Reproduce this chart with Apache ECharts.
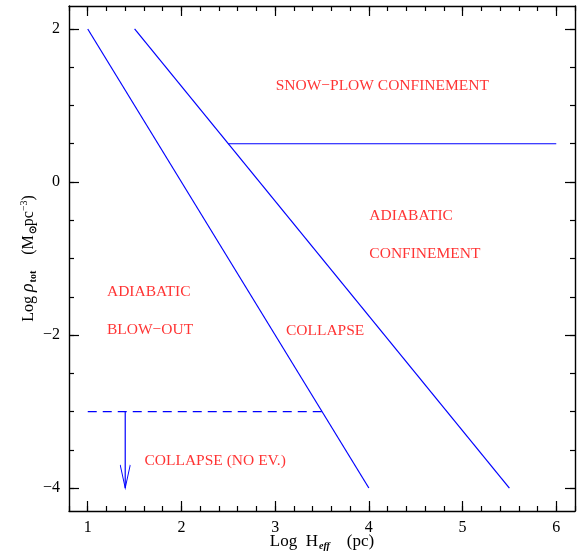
<!DOCTYPE html>
<html>
<head>
<meta charset="utf-8">
<script src="https://cdn.jsdelivr.net/npm/echarts@6/dist/echarts.min.js"></script>
<style>
html,body{margin:0;padding:0;background:#fff;}
#c{width:581px;height:558px;}
</style>
</head>
<body>
<div id="c"></div>
<script>
// ---- data ----
const line1X = [1, 4];
const line1Y = [2, -4];
const line2X = [1.5, 5.5];
const line2Y = [2, -4];
const confX = [2.5, 6];
const confY = [0.5, 0.5];
const dashX = [1, 3.5];
const dashY = [-3, -3];
const arrowX = [1.4, 1.4];
const arrowY = [-3, -4];

const regionText = ['SNOW\u2212PLOW CONFINEMENT', 'ADIABATIC', 'CONFINEMENT', 'ADIABATIC', 'BLOW\u2212OUT', 'COLLAPSE', 'COLLAPSE (NO EV.)'];
const regionX = [3.0, 4.0, 4.0, 1.2, 1.2, 3.11, 1.6];
const regionY = [1.26, -0.44, -0.94, -1.44, -1.93, -1.94, -3.65];

const xMajor = [1, 2, 3, 4, 5, 6];
const xMinor = [0.8, 1, 1.2, 1.4, 1.6, 1.8, 2, 2.2, 2.4, 2.6, 2.8, 3, 3.2, 3.4, 3.6, 3.8, 4, 4.2, 4.4, 4.6, 4.8, 5, 5.2, 5.4, 5.6, 5.8, 6, 6.2];
const yMajor = [-4, -2, 0, 2];
const yMinor = [-4, -3.5, -3, -2.5, -2, -1.5, -1, -0.5, 0, 0.5, 1, 1.5, 2];
const xRange = [0.8, 6.2];
const yRange = [-4.3, 2.3];

// ---- chart ----
const chart = echarts.init(document.getElementById('c'), null, {renderer: 'canvas'});
const BLUE = '#0000ff';
const SERIF = 'Liberation Serif';
const zip = (xs, ys) => xs.map((x, i) => [x, ys[i]]);

function xAx(position, ticks, len, main, line) {
  return {
    type: 'value', position, min: xRange[0], max: xRange[1],
    axisLine: {show: line, onZero: false, lineStyle: {color: '#000', width: 1.4}},
    axisTick: {show: true, inside: true, length: len, customValues: ticks, lineStyle: {color: '#000', width: 1.2}},
    axisLabel: main ? {show: true, customValues: xMajor, margin: 9, fontFamily: SERIF, fontSize: 16, color: '#000'} : {show: false},
    splitLine: {show: false}
  };
}
function yAx(position, ticks, len, main, line) {
  return {
    type: 'value', position, min: yRange[0], max: yRange[1],
    axisLine: {show: line, onZero: false, lineStyle: {color: '#000', width: 1.4}},
    axisTick: {show: true, inside: true, length: len, customValues: ticks, lineStyle: {color: '#000', width: 1.2}},
    axisLabel: main ? {show: true, customValues: yMajor, margin: 9, fontFamily: SERIF, fontSize: 16, color: '#000',
      formatter: v => String(v).replace('-', '\u2212')} : {show: false},
    splitLine: {show: false}
  };
}

const xAxes = [xAx('bottom', xMajor, 10, true, true), xAx('top', xMajor, 10, false, true),
               xAx('bottom', xMinor, 5, false, false), xAx('top', xMinor, 5, false, false)];
const yAxes = [yAx('left', yMajor, 10, true, true), yAx('right', yMajor, 10, false, true),
               yAx('left', yMinor, 5, false, false), yAx('right', yMinor, 5, false, false)];

xAxes[0].name = '{a|Log  H}{s|eff}{a|    (pc)}';
xAxes[0].nameLocation = 'middle';
xAxes[0].nameGap = 21;
xAxes[0].nameMoveOverlap = false;
xAxes[0].nameTextStyle = {
  rich: {
    a: {fontFamily: SERIF, fontSize: 17, color: '#000'},
    s: {fontFamily: SERIF, fontSize: 10, fontWeight: 'bold', fontStyle: 'italic', color: '#000', padding: [9, 0, 0, 1]}
  }
};
yAxes[0].name = '{a|Log }{g|\u03c1}{s|tot}{a|    (M}{s|\u2299}{a|pc}{p|\u22123}{a|)}';
yAxes[0].nameLocation = 'middle';
yAxes[0].nameGap = 31;
yAxes[0].nameMoveOverlap = false;
yAxes[0].nameTextStyle = {
  rich: {
    a: {fontFamily: SERIF, fontSize: 16, color: '#000'},
    g: {fontFamily: SERIF, fontSize: 18, fontStyle: 'italic', color: '#000'},
    s: {fontFamily: SERIF, fontSize: 10, fontWeight: 'bold', color: '#000', padding: [9, 0, 0, 1]},
    p: {fontFamily: SERIF, fontSize: 10, color: '#000', padding: [0, 0, 9, 0]}
  }
};

function lineSeries(xs, ys, type) {
  return {
    type: 'line', xAxisIndex: 0, yAxisIndex: 0, data: zip(xs, ys), symbol: 'none',
    lineStyle: {color: BLUE, width: 1.2, type: type || 'solid'}, silent: true, animation: false
  };
}

const arrowData = zip(arrowX, arrowY).map((p, i) => i === 0 ? {value: p, symbol: 'none'} : {
  value: p, symbol: 'path://M0,0 L5,22 L10,0', symbolSize: [10, 23], symbolOffset: [0, '-50%'],
  itemStyle: {color: 'rgba(0,0,0,0)', borderColor: BLUE, borderWidth: 1.3}
});

chart.setOption({
  animation: false,
  backgroundColor: '#fff',
  grid: {left: 69, top: 6, width: 506, height: 505, containLabel: false, outerBoundsMode: 'none', show: false},
  xAxis: xAxes,
  yAxis: yAxes,
  series: [
    lineSeries(line1X, line1Y),
    lineSeries(line2X, line2Y),
    lineSeries(confX, confY),
    lineSeries(dashX, dashY, [9, 6]),
    {
      type: 'line', xAxisIndex: 0, yAxisIndex: 0, data: arrowData, showSymbol: true,
      lineStyle: {color: BLUE, width: 1.2}, silent: true, animation: false
    },
    {
      type: 'scatter', xAxisIndex: 0, yAxisIndex: 0, symbolSize: 1,
      itemStyle: {color: 'rgba(0,0,0,0)'}, silent: true,
      data: regionText.map((t, i) => ({value: [regionX[i], regionY[i]], name: t})),
      label: {show: true, position: 'right', distance: 0, align: 'left', verticalAlign: 'middle',
        formatter: p => p.name, color: '#ff0000', fontFamily: SERIF, fontSize: 15.5}
    }
  ]
});
</script>
</body>
</html>
